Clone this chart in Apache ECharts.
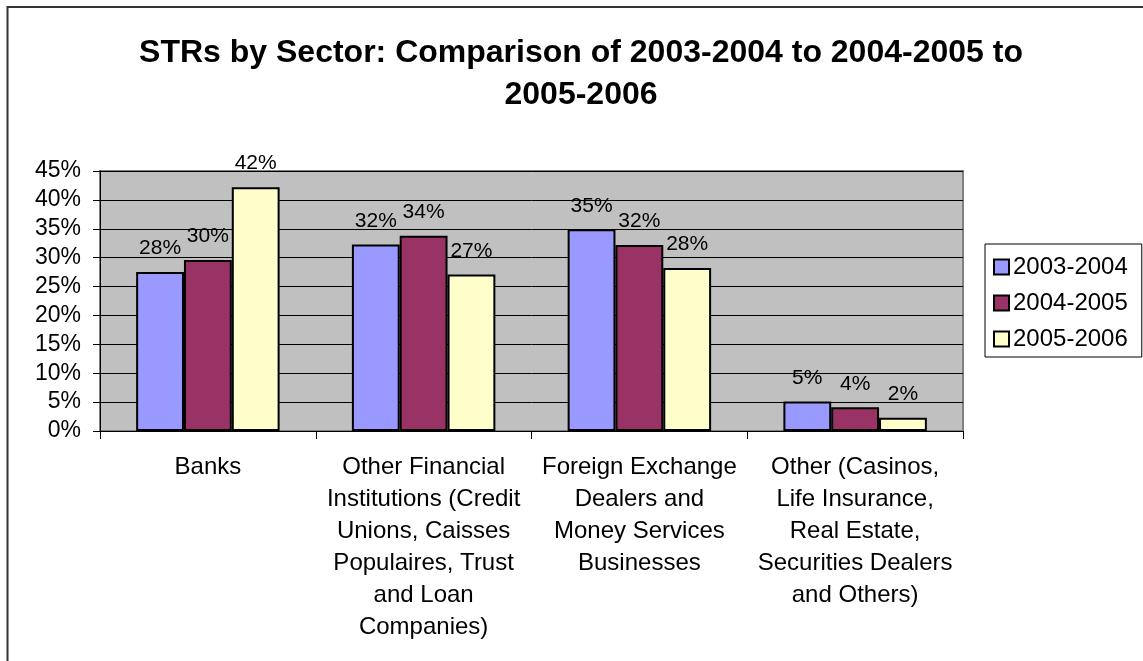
<!DOCTYPE html>
<html>
<head>
<meta charset="utf-8">
<title>STRs by Sector</title>
<script src="https://cdn.jsdelivr.net/npm/echarts@6/dist/echarts.min.js"></script>
<style>
  html, body { margin: 0; padding: 0; background: #ffffff; }
  #chart { width: 1143px; height: 661px; }
</style>
</head>
<body>
<div id="chart"></div>
<script>
// Sector categories (line breaks follow the wrapped axis labels)
const categories = [
  'Banks',
  'Other Financial\nInstitutions (Credit\nUnions, Caisses\nPopulaires, Trust\nand Loan\nCompanies)',
  'Foreign Exchange\nDealers and\nMoney Services\nBusinesses',
  'Other (Casinos,\nLife Insurance,\nReal Estate,\nSecurities Dealers\nand Others)'
];

// Share of STRs per sector, in percent
const seriesNames = ['2003-2004', '2004-2005', '2005-2006'];
const values2003_2004 = [27.5, 32.3, 34.9, 5.1];
const values2004_2005 = [29.6, 33.8, 32.2, 4.1];
const values2005_2006 = [42.2, 27.1, 28.2, 2.3];

// Y axis range and step, in percent
const yMin = 0;
const yMax = 45;
const yStep = 5;

const colors = ['#9999ff', '#993366', '#ffffcc'];
const FONT = 'Liberation Sans, Arial, sans-serif';

const seriesData = [values2003_2004, values2004_2005, values2005_2006];

const chart = echarts.init(document.getElementById('chart'), null, { renderer: 'canvas' });

chart.setOption({
  animation: false,
  backgroundColor: '#ffffff',
  textStyle: { fontFamily: FONT, color: '#000' },
  title: {
    text: 'STRs by Sector: Comparison of 2003-2004 to 2004-2005 to\n2005-2006',
    left: 576,
    textAlign: 'center',
    top: 27,
    textStyle: {
      fontFamily: FONT,
      fontSize: 32,
      fontWeight: 'bold',
      color: '#000',
      lineHeight: 42
    }
  },
  legend: {
    orient: 'vertical',
    left: 985,
    top: 244,
    padding: [11, 14, 6, 8],
    itemGap: 12,
    itemWidth: 15,
    itemHeight: 15,
    icon: 'rect',
    borderColor: '#000',
    borderWidth: 1,
    backgroundColor: '#fff',
    textStyle: { fontFamily: FONT, fontSize: 24, color: '#000', padding: [0, 0, 0, -1] },
    data: seriesNames
  },
  grid: {
    left: 100,
    top: 171,
    right: 180,
    bottom: 230,
    show: true,
    backgroundColor: '#c0c0c0',
    borderColor: '#808080',
    borderWidth: 2,
    containLabel: false
  },
  xAxis: {
    type: 'category',
    data: categories,
    boundaryGap: true,
    axisLine: { show: true, lineStyle: { color: '#000', width: 1 } },
    axisTick: { show: true, alignWithLabel: false, length: 8, lineStyle: { color: '#000' } },
    axisLabel: {
      interval: 0,
      margin: 20,
      fontFamily: FONT,
      fontSize: 24,
      lineHeight: 32,
      color: '#000',
      align: 'center'
    },
    splitLine: { show: false }
  },
  yAxis: {
    type: 'value',
    min: yMin,
    max: yMax,
    interval: yStep,
    axisLine: { show: true, lineStyle: { color: '#000', width: 1 } },
    axisTick: { show: true, length: 7, lineStyle: { color: '#000' } },
    axisLabel: {
      margin: 19,
      fontFamily: FONT,
      fontSize: 23,
      color: '#000',
      formatter: '{value}%'
    },
    splitLine: { show: true, lineStyle: { color: '#000', width: 1 } }
  },
  series: seriesNames.map((name, i) => ({
    name: name,
    type: 'bar',
    data: seriesData[i],
    barGap: '0%',
    barCategoryGap: '33.5%',
    itemStyle: { color: colors[i], borderColor: '#000', borderWidth: 2 },
    label: {
      show: true,
      position: 'top',
      distance: 13,
      fontFamily: FONT,
      fontSize: 21,
      color: '#000',
      formatter: p => Math.round(p.value) + '%'
    }
  })),
  graphic: [
    {
      type: 'rect',
      silent: true,
      z: 100,
      shape: { x: 7.5, y: 7, width: 1200, height: 700 },
      style: { fill: null, stroke: '#333', lineWidth: 2 }
    }
  ]
});
</script>
</body>
</html>
